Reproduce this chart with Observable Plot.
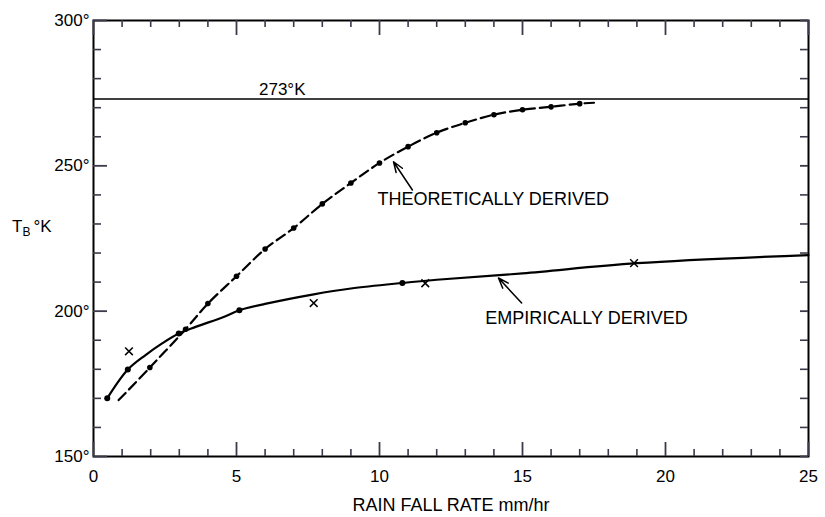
<!DOCTYPE html>
<html><head><meta charset="utf-8">
<script src="https://cdn.jsdelivr.net/npm/d3@7"></script>
<script src="https://cdn.jsdelivr.net/npm/@observablehq/plot@0.6"></script>
<style>
body{margin:0;background:#fff}
#chart svg{font-family:"Liberation Sans",Arial,Helvetica,sans-serif}
</style>
</head><body><div id="chart"></div>
<script>
// ---- data ----
const theoLineX = [0.88, 1.97, 3.22, 4, 5, 6, 7, 8, 9, 10, 11, 12, 13, 14, 15, 16, 17, 17.5];
const theoLineY = [169.4, 180.6, 193.8, 202.6, 212, 221.4, 228.6, 236.9, 244.1, 251, 256.6, 261.4, 264.8, 267.6, 269.3, 270.3, 271.4, 271.7];
const theoDotX = [1.97, 3.22, 4, 5, 6, 7, 8, 9, 10, 11, 12, 13, 14, 15, 16, 17];
const theoDotY = [180.6, 193.8, 202.6, 212, 221.4, 228.6, 236.9, 244.1, 251, 256.6, 261.4, 264.8, 267.6, 269.3, 270.3, 271.4];

const empLineX = [0.48, 1.2, 1.82, 2.4, 2.98, 3.57, 4.55, 5.1, 6, 7.7, 9, 10.8, 12, 15, 19, 25];
const empLineY = [170, 179.9, 184.9, 188.9, 192.3, 194.6, 198, 200.3, 202.5, 205.8, 207.8, 209.7, 210.8, 213, 216.5, 219.3];
const empDotX = [0.48, 1.2, 2.98, 5.1, 10.8];
const empDotY = [170, 179.9, 192.3, 200.3, 209.7];
const empCrossX = [1.24, 7.7, 11.6, 18.9];
const empCrossY = [186.2, 202.8, 209.6, 216.5];

const freezeK = [273];
const freezeLabel = ["273°K"];
const curveLabels = ["THEORETICALLY DERIVED", "EMPIRICALLY DERIVED"];
const curveLabelX = [9.93, 13.7];
const curveLabelY = [238.6, 197.6];
const arrowX1 = [11.15, 14.97];
const arrowY1 = [241.7, 202.8];
const arrowX2 = [10.49, 14.16];
const arrowY2 = [251.4, 211.4];

const xMajorTicks = [0, 5, 10, 15, 20, 25];
const xMinorTicks = [1, 2, 3, 4, 6, 7, 8, 9, 11, 12, 13, 14, 16, 17, 18, 19, 21, 22, 23, 24];
const yMajorTicks = [150, 200, 250, 300];
const yMinorTicks = [160, 170, 180, 190, 210, 220, 230, 240, 260, 270, 280, 290];
const yTickLabels = ["150°", "200°", "250°", "300°"];
const xTitle = "RAIN FALL RATE mm/hr";

// ---- build ----
const W = 825, H = 517, mL = 93, mR = 17, mT = 20, mB = 61;
const xDom = [0, 25], yDom = [150, 300];
const innerW = W - mL - mR, innerH = H - mT - mB;
const perPxX = (xDom[1] - xDom[0]) / innerW;   // data units per pixel
const perPxY = (yDom[1] - yDom[0]) / innerH;
const tickColor = "#3a3a4a";

const theo = theoLineX.map((x, i) => ({x, y: theoLineY[i]}));
const theoDots = theoDotX.map((x, i) => ({x, y: theoDotY[i]}));
const emp = empLineX.map((x, i) => ({x, y: empLineY[i]}));
const empDots = empDotX.map((x, i) => ({x, y: empDotY[i]}));
const empCross = empCrossX.map((x, i) => ({x, y: empCrossY[i]}));
const labels = curveLabels.map((t, i) => ({t, x: curveLabelX[i], y: curveLabelY[i]}));
const arrows = arrowX1.map((x1, i) => ({x1, y1: arrowY1[i], x2: arrowX2[i], y2: arrowY2[i]}));

function xTickMark(vals, len, atTop, sw) {
  const base = atTop ? yDom[1] : yDom[0];
  const sgn = atTop ? -1 : 1;
  const rows = vals.map(x => ({x, y1: base, y2: base + sgn * len * perPxY}));
  return Plot.ruleX(rows, {x: "x", y1: "y1", y2: "y2", stroke: tickColor, strokeWidth: sw});
}
function yTickMark(vals, len, atRight, sw) {
  const base = atRight ? xDom[1] : xDom[0];
  const sgn = atRight ? -1 : 1;
  const rows = vals.map(y => ({y, x1: base, x2: base + sgn * len * perPxX}));
  return Plot.ruleY(rows, {y: "y", x1: "x1", x2: "x2", stroke: tickColor, strokeWidth: sw});
}

const plot = Plot.plot({
  width: W, height: H,
  marginLeft: mL, marginRight: mR, marginTop: mT, marginBottom: mB,
  style: {fontFamily: '"Liberation Sans",Arial,sans-serif', fontSize: "17px", color: "#000", background: "#fff", overflow: "visible"},
  x: {domain: xDom},
  y: {domain: yDom},
  marks: [
    Plot.frame({strokeWidth: 2, stroke: "black"}),
    xTickMark(xMajorTicks, 14, false, 1.8),
    xTickMark(xMinorTicks, 7, false, 1.6),
    xTickMark(xMajorTicks, 15, true, 1.8),
    xTickMark(xMinorTicks, 7, true, 1.6),
    yTickMark(yMajorTicks, 14, false, 1.8),
    yTickMark(yMinorTicks, 8, false, 1.6),
    yTickMark(yMajorTicks, 8, true, 1.8),
    yTickMark(yMinorTicks, 8, true, 1.6),
    Plot.axisX(xMajorTicks, {tickSize: 0, tickPadding: 13, fontSize: 17, label: null}),
    Plot.axisY(yMajorTicks, {tickSize: 0, tickPadding: 4, fontSize: 17, label: null,
      tickFormat: d => yTickLabels[yMajorTicks.indexOf(d)]}),
    Plot.text([xTitle], {frameAnchor: "bottom", dy: 49, lineAnchor: "middle", fontSize: 18}),
    Plot.ruleY(freezeK, {strokeWidth: 1.6}),
    Plot.text(freezeLabel, {x: 6.6, y: freezeK[0], dy: -4, lineAnchor: "bottom", fontSize: 17}),
    Plot.line(theo, {x: "x", y: "y", curve: "catmull-rom", strokeWidth: 2.2, strokeDasharray: "10,5"}),
    Plot.dot(theoDots, {x: "x", y: "y", r: 2.8, fill: "black", stroke: "none"}),
    Plot.line(emp, {x: "x", y: "y", curve: "catmull-rom", strokeWidth: 2.2}),
    Plot.dot(empDots, {x: "x", y: "y", r: 3, fill: "black", stroke: "none"}),
    Plot.dot(empCross, {x: "x", y: "y", symbol: "times", r: 3.6, stroke: "black", strokeWidth: 1.5}),
    Plot.text(labels, {x: "x", y: "y", text: "t", textAnchor: "start", lineAnchor: "middle", fontSize: 18}),
    Plot.arrow(arrows, {x1: "x1", y1: "y1", x2: "x2", y2: "y2", strokeWidth: 1.5, headLength: 11, headAngle: 40})
  ]
});

// T_B °K axis label with subscript
const ys = plot.scale("y");
const lab = d3.select(plot).append("text")
  .attr("x", 12).attr("y", ys.apply(229) + 6)
  .attr("text-anchor", "start")
  .attr("font-size", 17).attr("fill", "black");
lab.append("tspan").text("T");
lab.append("tspan").attr("font-size", 12).attr("dy", 4).text("B");
lab.append("tspan").attr("dy", -4).attr("dx", 3).text("°K");

document.getElementById("chart").appendChild(plot);
</script>
</body></html>
